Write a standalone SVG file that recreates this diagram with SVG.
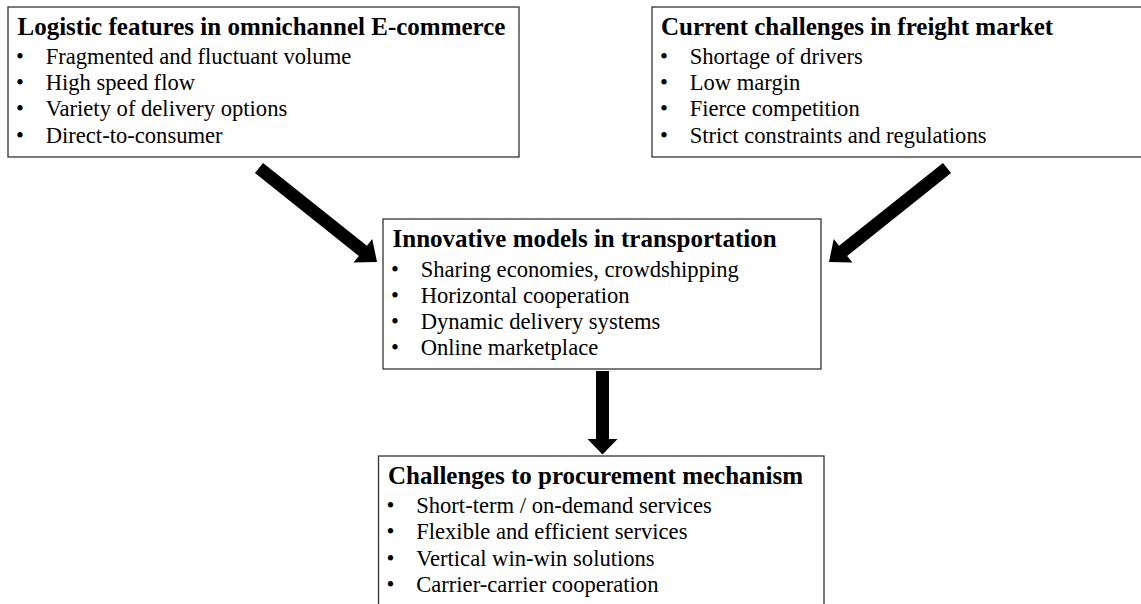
<svg xmlns="http://www.w3.org/2000/svg" width="1141" height="604" viewBox="0 0 1141 604">
<style>
.box{fill:#fff;stroke:#333;stroke-width:1.3}
.t{font-family:"Liberation Serif","Times New Roman",serif;font-size:25px;font-weight:bold;fill:#000}
.i{font-family:"Liberation Serif","Times New Roman",serif;font-size:22.6px;fill:#000}
.b{font-family:"Liberation Serif","Times New Roman",serif;font-size:22.6px;fill:#000;text-anchor:middle}
.arr{fill:#000;stroke:none}
</style>
<rect width="1141" height="604" fill="#fff"/>
<g id="connectors">
<polygon class="arr" points="254.95,173.08 263.05,162.92 366.95,245.72 372.25,239.07 377,262 353.55,262.53 358.85,255.88"/>
<polygon class="arr" points="951.05,173.08 942.95,162.92 839.05,245.72 833.75,239.07 829,262 852.45,262.53 847.15,255.88"/>
<polygon class="arr" points="596,371 609,371 609,439 617.5,439 602.5,454.5 587.5,439 596,439"/>
</g>
<g id="node-logistic">
<rect class="box" x="8" y="7" width="511" height="150"/>
<text class="t" x="17.5" y="34.7">Logistic features in omnichannel E-commerce</text>
<text class="b" x="20" y="64">•</text><text class="i" x="45.7" y="64">Fragmented and fluctuant volume</text>
<text class="b" x="20" y="90.2">•</text><text class="i" x="45.7" y="90.2">High speed flow</text>
<text class="b" x="20" y="116.4">•</text><text class="i" x="45.7" y="116.4">Variety of delivery options</text>
<text class="b" x="20" y="142.6">•</text><text class="i" x="45.7" y="142.6">Direct-to-consumer</text>
</g>
<g id="node-challenges-freight">
<rect class="box" x="652" y="7" width="492" height="150"/>
<text class="t" x="661" y="34.7">Current challenges in freight market</text>
<text class="b" x="664" y="64">•</text><text class="i" x="689.7" y="64">Shortage of drivers</text>
<text class="b" x="664" y="90.2">•</text><text class="i" x="689.7" y="90.2">Low margin</text>
<text class="b" x="664" y="116.4">•</text><text class="i" x="689.7" y="116.4">Fierce competition</text>
<text class="b" x="664" y="142.6">•</text><text class="i" x="689.7" y="142.6">Strict constraints and regulations</text>
</g>
<g id="node-innovative">
<rect class="box" x="383" y="219" width="438" height="150"/>
<text class="t" x="392.5" y="246.7">Innovative models in transportation</text>
<text class="b" x="395" y="276.5">•</text><text class="i" x="420.7" y="276.5">Sharing economies, crowdshipping</text>
<text class="b" x="395" y="302.8">•</text><text class="i" x="420.7" y="302.8">Horizontal cooperation</text>
<text class="b" x="395" y="329.1">•</text><text class="i" x="420.7" y="329.1">Dynamic delivery systems</text>
<text class="b" x="395" y="355.4">•</text><text class="i" x="420.7" y="355.4">Online marketplace</text>
</g>
<g id="node-procurement">
<rect class="box" x="378.5" y="456" width="445.5" height="152"/>
<text class="t" x="388" y="483.5">Challenges to procurement mechanism</text>
<text class="b" x="390.5" y="513">•</text><text class="i" x="416.2" y="513">Short-term / on-demand services</text>
<text class="b" x="390.5" y="539.3">•</text><text class="i" x="416.2" y="539.3">Flexible and efficient services</text>
<text class="b" x="390.5" y="565.6">•</text><text class="i" x="416.2" y="565.6">Vertical win-win solutions</text>
<text class="b" x="390.5" y="591.9">•</text><text class="i" x="416.2" y="591.9">Carrier-carrier cooperation</text>
</g>
</svg>
